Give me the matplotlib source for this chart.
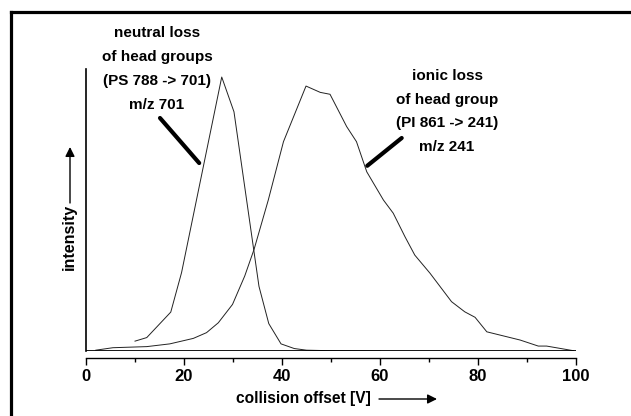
import matplotlib
matplotlib.use("Agg")
import matplotlib.pyplot as plt
from matplotlib.lines import Line2D

plt.rcParams['font.family'] = ['Liberation Sans', 'DejaVu Sans']
plt.rcParams['font.weight'] = 'bold'

# --- data (collision offset in V, intensity in %) ---
neutral_x = [10, 12.4, 17.3, 19.5, 27.7, 30.2, 35.3, 37.3, 39.8, 42.5, 45, 50, 60]
neutral_y = [3.6, 4.9, 14.2, 28.6, 100, 87.3, 23.6, 10, 2.6, 0.9, 0.3, 0.1, 0]

ionic_x = [2, 5.5, 12.4, 17.1, 21.9, 24.6, 27.0, 29.9, 32.4, 34.3, 37.2, 40.3, 44.9,
           47.8, 49.8, 53.2, 55.2, 57.3, 60.7, 62.7, 65.1, 67.1, 70.2, 74.6, 77.3,
           79.4, 81.8, 88.6, 92.3, 94.0, 99.5]
ionic_y = [0.3, 1.2, 1.6, 2.6, 4.6, 6.7, 10.3, 17.0, 27.4, 37.1, 55.1, 76.4, 96.7,
           94.4, 93.7, 81.9, 76.4, 65.4, 55.1, 50.3, 41.7, 35.0, 28.4, 18.0, 14.3,
           12.3, 7.0, 4.0, 1.8, 1.8, 0.1]

xticks = [0, 20, 40, 60, 80, 100]
xminor = [10, 30, 50, 70, 90]

neutral_text = "neutral loss\nof head groups\n(PS 788 -> 701)\nm/z 701"
ionic_text = "ionic loss\nof head group\n(PI 861 -> 241)\nm/z 241"

W, H = 631, 416


def fp(x, y):
    # pixel position (from top-left) -> figure fraction
    return (x / W, 1 - y / H)


fig = plt.figure(figsize=(W / 100, H / 100), dpi=100)
ax = fig.add_axes([86 / W, (H - 351) / H, 490 / W, 282.2 / H])

ax.plot(neutral_x, neutral_y, color='#222222', lw=0.7)
ax.plot(ionic_x, ionic_y, color='#222222', lw=0.7)
ax.axhline(0, color='black', lw=2.0, zorder=3)

ax.set_xlim(0, 100)
ax.set_ylim(0, 103)
ax.set_yticks([])
ax.set_xticks(xticks)
ax.set_xticks(xminor, minor=True)
ax.tick_params(axis='x', which='major', direction='out', length=5, width=1,
               labelsize=12, pad=3)
ax.tick_params(axis='x', which='minor', direction='out', length=3, width=1)
for lab in ax.get_xticklabels():
    lab.set_fontweight('bold')

ax.spines['top'].set_visible(False)
ax.spines['right'].set_visible(False)
ax.spines['left'].set_linewidth(1.2)
ax.spines['bottom'].set_position(('outward', 5))
ax.spines['bottom'].set_linewidth(1.0)

# axis labels with arrows
fig.text(*fp(69, 237), "intensity", rotation=90, ha='center', va='center',
         fontsize=11.5, fontweight='bold')
ax.annotate('', xy=fp(70, 147), xytext=fp(70, 203), xycoords='figure fraction',
            textcoords='figure fraction',
            arrowprops=dict(arrowstyle='-|>', lw=1, color='black',
                            mutation_scale=14, shrinkA=0, shrinkB=0))
fig.text(*fp(303, 399), "collision offset [V]", ha='center', va='center',
         fontsize=11.2, fontweight='bold')
ax.annotate('', xy=fp(437, 399), xytext=fp(379, 399), xycoords='figure fraction',
            textcoords='figure fraction',
            arrowprops=dict(arrowstyle='-|>', lw=1, color='black',
                            mutation_scale=14, shrinkA=0, shrinkB=0))

# peak annotations
fig.text(*fp(157, 69), neutral_text, ha='center', va='center', fontsize=11,
         fontweight='bold', linespacing=1.9, multialignment='center')
fig.text(*fp(447, 111.5), ionic_text, ha='center', va='center', fontsize=11,
         fontweight='bold', linespacing=1.9, multialignment='center')
ax.annotate('', xy=(23.1, 68.6), xytext=fp(160, 118), xycoords='data',
            textcoords='figure fraction',
            arrowprops=dict(arrowstyle='-', lw=3.0, color='black', shrinkA=0, shrinkB=0))
ax.annotate('', xy=(57.4, 67.6), xytext=fp(401.7, 138), xycoords='data',
            textcoords='figure fraction',
            arrowprops=dict(arrowstyle='-', lw=3.0, color='black', shrinkA=0, shrinkB=0))

# outer frame (top and left edges)
fig.add_artist(Line2D([11 / W, 1], [1 - 12.3 / H, 1 - 12.3 / H], color='black', lw=2.3,
                      transform=fig.transFigure))
fig.add_artist(Line2D([11 / W, 11 / W], [0, 1 - 12.3 / H], color='black', lw=2.3,
                      transform=fig.transFigure))

fig.savefig("out.png", dpi=100)
